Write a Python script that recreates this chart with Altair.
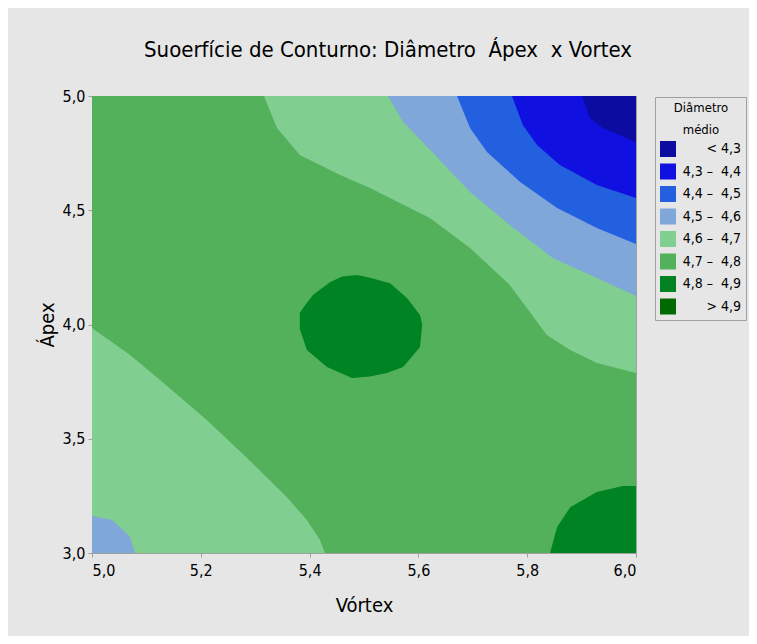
import altair as alt
import pandas as pd

FONT = "DejaVu Sans Condensed, Liberation Sans Narrow, Roboto, sans-serif"

# Legend classes and colours
bands = ["< 4,3", "4,3 \u2013\u00a0 4,4", "4,4 \u2013\u00a0 4,5", "4,5 \u2013\u00a0 4,6",
         "4,6 \u2013\u00a0 4,7", "4,7 \u2013\u00a0 4,8", "4,8 \u2013\u00a0 4,9", "> 4,9"]
band_colors = ["#0c0ca0", "#1010e0", "#2360e0", "#7fa7da",
               "#80ce90", "#53b05b", "#008423", "#006a00"]

# Contour regions (Vórtex = x, Ápex = y), drawn in this order
fundo_x = [5.0, 6.0, 6.0, 5.0]
fundo_y = [3.0, 3.0, 5.0, 5.0]

sup_47_x = [5.316, 5.34, 5.382, 5.456, 5.511, 5.621, 5.695, 5.768, 5.80, 5.836, 5.879, 5.928, 6.0, 6.0]
sup_47_y = [5.0, 4.86, 4.742, 4.654, 4.597, 4.466, 4.335, 4.173, 4.07, 3.954, 3.888, 3.831, 3.788, 5.0]

sup_46_x = [5.544, 5.572, 5.634, 5.695, 5.768, 5.847, 5.928, 6.0, 6.0]
sup_46_y = [5.0, 4.886, 4.733, 4.580, 4.435, 4.291, 4.203, 4.125, 5.0]

sup_45_x = [5.671, 5.695, 5.726, 5.787, 5.855, 5.928, 6.0, 6.0]
sup_45_y = [5.0, 4.86, 4.755, 4.624, 4.510, 4.422, 4.352, 5.0]

sup_44_x = [5.772, 5.792, 5.818, 5.860, 5.928, 6.0, 6.0]
sup_44_y = [5.0, 4.873, 4.786, 4.698, 4.61, 4.554, 5.0]

sup_43_x = [5.901, 5.915, 5.939, 6.0, 6.0]
sup_43_y = [5.0, 4.904, 4.86, 4.799, 5.0]

inf_47_x = [5.0, 5.07, 5.125, 5.211, 5.285, 5.358, 5.395, 5.419, 5.428, 5.0]
inf_47_y = [3.985, 3.867, 3.757, 3.582, 3.416, 3.245, 3.144, 3.057, 3.0, 3.0]

inf_46_x = [5.0, 5.037, 5.07, 5.079, 5.0]
inf_46_y = [3.162, 3.144, 3.07, 3.0, 3.0]

centro_x = [5.487, 5.511, 5.548, 5.579, 5.603, 5.607, 5.603, 5.572, 5.542, 5.511, 5.478,
            5.432, 5.395, 5.382, 5.382, 5.388, 5.406, 5.438, 5.46]
centro_y = [4.217, 4.205, 4.18, 4.116, 4.042, 4.0, 3.902, 3.814, 3.788, 3.772, 3.766,
            3.814, 3.888, 3.98, 4.05, 4.072, 4.129, 4.186, 4.21]

canto_x = [5.842, 5.855, 5.879, 5.928, 5.976, 6.0, 6.0]
canto_y = [3.0, 3.114, 3.2, 3.267, 3.293, 3.293, 3.0]

regions = [
    (fundo_x, fundo_y, 5),
    (sup_47_x, sup_47_y, 4),
    (sup_46_x, sup_46_y, 3),
    (sup_45_x, sup_45_y, 2),
    (sup_44_x, sup_44_y, 1),
    (sup_43_x, sup_43_y, 0),
    (inf_47_x, inf_47_y, 4),
    (inf_46_x, inf_46_y, 3),
    (centro_x, centro_y, 6),
    (canto_x, canto_y, 6),
]

rows = []
for pid, (xs, ys, b) in enumerate(regions):
    for i, (xv, yv) in enumerate(zip(xs, ys)):
        rows.append({"pid": pid, "i": i, "vortex": xv, "apex": yv, "faixa": bands[b]})
df = pd.DataFrame(rows)

fmt = "replace(format(datum.value, '.1f'), '.', ',')"

xenc = alt.X("vortex:Q", scale=alt.Scale(domain=[5.0, 6.0], nice=False, zero=False),
             axis=alt.Axis(values=[5.0, 5.2, 5.4, 5.6, 5.8, 6.0], labelExpr=fmt,
                           title="V\u00f3rtex", titleY=52, titleBaseline="middle",
                           labelPadding=5))
yenc = alt.Y("apex:Q", scale=alt.Scale(domain=[3.0, 5.0], nice=False, zero=False),
             axis=alt.Axis(values=[3.0, 3.5, 4.0, 4.5, 5.0], labelExpr=fmt,
                           title="\u00c1pex", titleX=-45, titleBaseline="middle",
                           labelPadding=3))
color = alt.Color("faixa:N",
                  scale=alt.Scale(domain=bands, range=band_colors),
                  sort=bands,
                  legend=alt.Legend(orient="none", legendX=563, legendY=1,
                                    title=["Di\u00e2metro", "m\u00e9dio"],
                                    titleAlign="center", titleAnchor="middle",
                                    titleFontWeight="normal", titleFontSize=13,
                                    titleLineHeight=22, titlePadding=4,
                                    titleFont=FONT,
                                    symbolType="square", symbolSize=256,
                                    symbolStrokeWidth=0, symbolOpacity=1,
                                    labelAlign="right", labelOffset=65,
                                    labelFontSize=14, labelFont=FONT,
                                    rowPadding=6.5, padding=5,
                                    strokeColor="#a0a0a0"))

layers = []
for pid in range(len(regions)):
    layers.append(
        alt.Chart(df).transform_filter(alt.datum.pid == pid)
        .mark_line(filled=True, strokeWidth=0, opacity=1)
        .encode(x=xenc, y=yenc, color=color, order=alt.Order("i:Q"), detail="pid:N")
    )

chart = alt.layer(*layers).properties(
    width=544, height=457,
    autosize=alt.AutoSizeParams(type="none"),
    padding={"left": 84, "top": 88, "right": 113, "bottom": 83},
    background="#e6e6e6",
    title=alt.TitleParams("Suoerf\u00edcie de Conturno: Di\u00e2metro\u00a0 \u00c1pex\u00a0 x Vortex",
                          font=FONT, fontSize=22, fontWeight="normal", color="black",
                          anchor="middle", dx=24, offset=26),
).configure_view(stroke="#a0a0a0", strokeWidth=1).configure_axis(
    labelFont=FONT, labelFontSize=16, labelColor="black", titleFont=FONT,
    titleFontSize=20, titleFontWeight="normal", titleColor="black",
    domainColor="#a0a0a0", tickColor="#a0a0a0", tickSize=4, grid=False,
)

chart.save("out.html", embed_options={"renderer": "svg", "actions": False})
